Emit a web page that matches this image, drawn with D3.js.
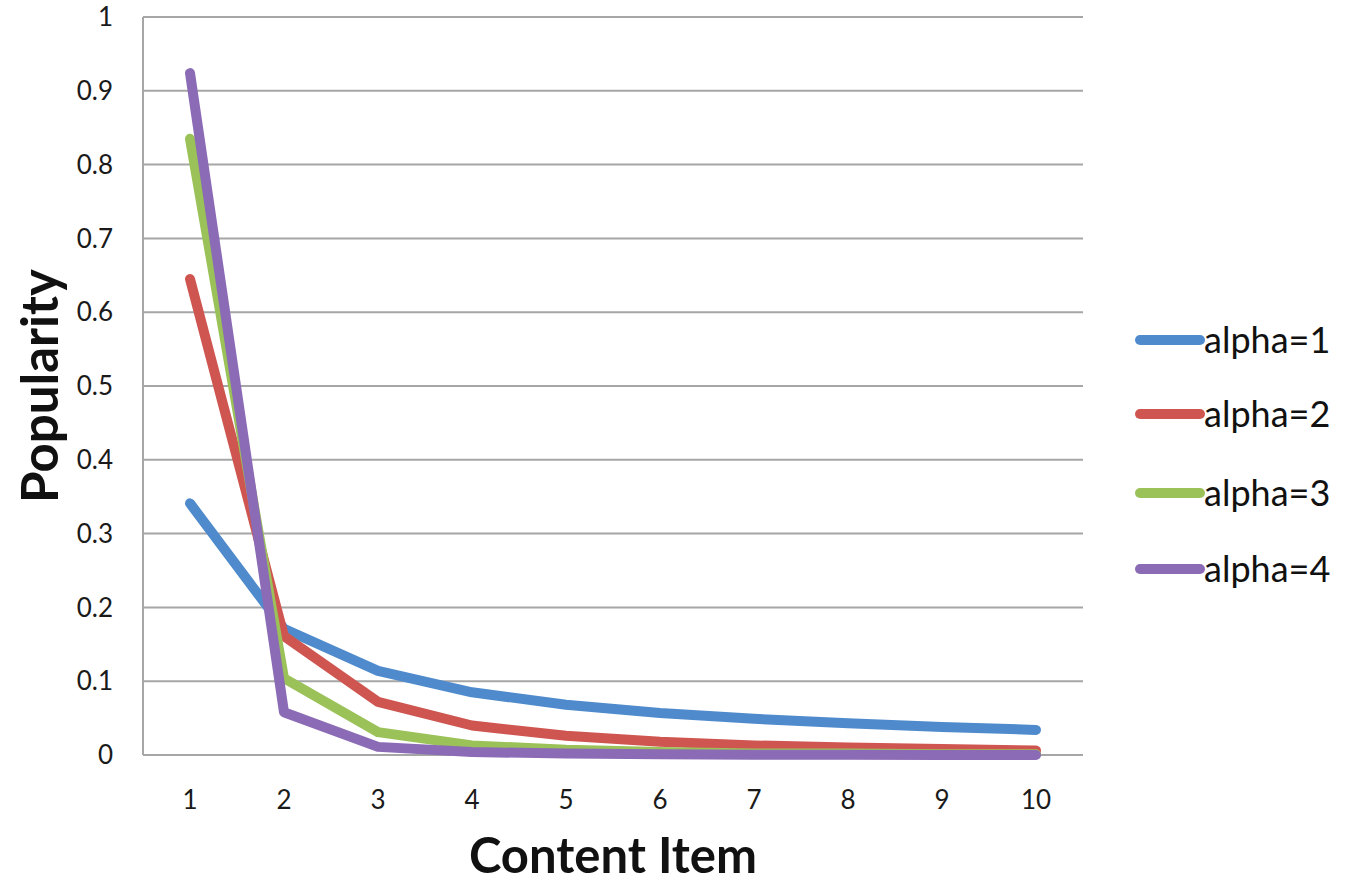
<!DOCTYPE html>
<html><head><meta charset="utf-8">
<script src="https://cdn.jsdelivr.net/npm/d3@7"></script>
<style>body{margin:0;background:#fff;} svg{display:block;font-family:Lato,"Open Sans",sans-serif;}</style>
</head><body>
<svg id="c" width="1350" height="883"></svg>
<script>
const categories = [1,2,3,4,5,6,7,8,9,10];
const alpha1 = [0.341,0.171,0.114,0.085,0.068,0.057,0.049,0.043,0.038,0.034];
const alpha2 = [0.645,0.161,0.072,0.040,0.026,0.018,0.013,0.010,0.008,0.006];
const alpha3 = [0.835,0.104,0.031,0.013,0.007,0.004,0.002,0.002,0.001,0.001];
const alpha4 = [0.924,0.058,0.011,0.004,0.002,0.001,0.0004,0.0002,0.0001,0.0001];
const seriesNames = ["alpha=1","alpha=2","alpha=3","alpha=4"];
const colors = ["#4f8bcc","#cf5650","#9bc259","#8b6bb5"];
const yTicks = [0,0.1,0.2,0.3,0.4,0.5,0.6,0.7,0.8,0.9,1];
const yTickLabels = ["0","0.1","0.2","0.3","0.4","0.5","0.6","0.7","0.8","0.9","1"];
const seriesValues = [alpha1,alpha2,alpha3,alpha4];

const svg = d3.select("#c");
const L=143,R=1083,T=17,B=755;
const x = d3.scaleBand().domain(categories).range([L,R]);
const y = d3.scaleLinear().domain([0,1]).range([B,T]);

// gridlines
svg.append("g").selectAll("line").data(yTicks).join("line")
  .attr("x1",L).attr("x2",R).attr("y1",d=>y(d)).attr("y2",d=>y(d))
  .attr("stroke","#a6a6a6").attr("stroke-width",2);
svg.append("line").attr("x1",L).attr("x2",L).attr("y1",T).attr("y2",B)
  .attr("stroke","#a6a6a6").attr("stroke-width",2);

// y labels
svg.append("g").selectAll("text").data(yTicks).join("text")
  .attr("x",113).attr("y",d=>y(d)).attr("dy","0.35em").attr("text-anchor","end")
  .attr("font-size",26).attr("fill","#1a1a1a").text((d,i)=>yTickLabels[i]);
// x labels
svg.append("g").selectAll("text").data(categories).join("text")
  .attr("x",d=>x(d)+x.bandwidth()/2).attr("y",809).attr("text-anchor","middle")
  .attr("font-size",26).attr("fill","#1a1a1a").text(d=>d);

// lines
const line = d3.line().x((d,i)=>x(categories[i])+x.bandwidth()/2).y(d=>y(d));
svg.append("g").selectAll("path").data(seriesValues).join("path")
  .attr("d",line).attr("fill","none").attr("stroke",(d,i)=>colors[i])
  .attr("stroke-width",10).attr("stroke-linecap","round").attr("stroke-linejoin","round");

// axis titles
svg.append("text").attr("x",613).attr("y",873).attr("text-anchor","middle")
  .attr("font-size",49).attr("font-weight","bold").attr("fill","#111").text("Content Item");
svg.append("text").attr("transform","translate(58,386) rotate(-90)").attr("text-anchor","middle")
  .attr("font-size",51).attr("font-weight","bold").attr("fill","#111").text("Popularity");

// legend
const legY = [340,414,493,569];
const lg = svg.append("g").selectAll("g").data(seriesNames).join("g")
  .attr("transform",(d,i)=>`translate(0,${legY[i]})`);
lg.append("line").attr("x1",1140).attr("x2",1200).attr("y1",0).attr("y2",0)
  .attr("stroke",(d,i)=>colors[i]).attr("stroke-width",10).attr("stroke-linecap","round");
lg.append("text").attr("x",1204).attr("y",0).attr("dy","0.35em")
  .attr("font-size",36).attr("fill","#111").text(d=>d);
</script>
</body></html>
